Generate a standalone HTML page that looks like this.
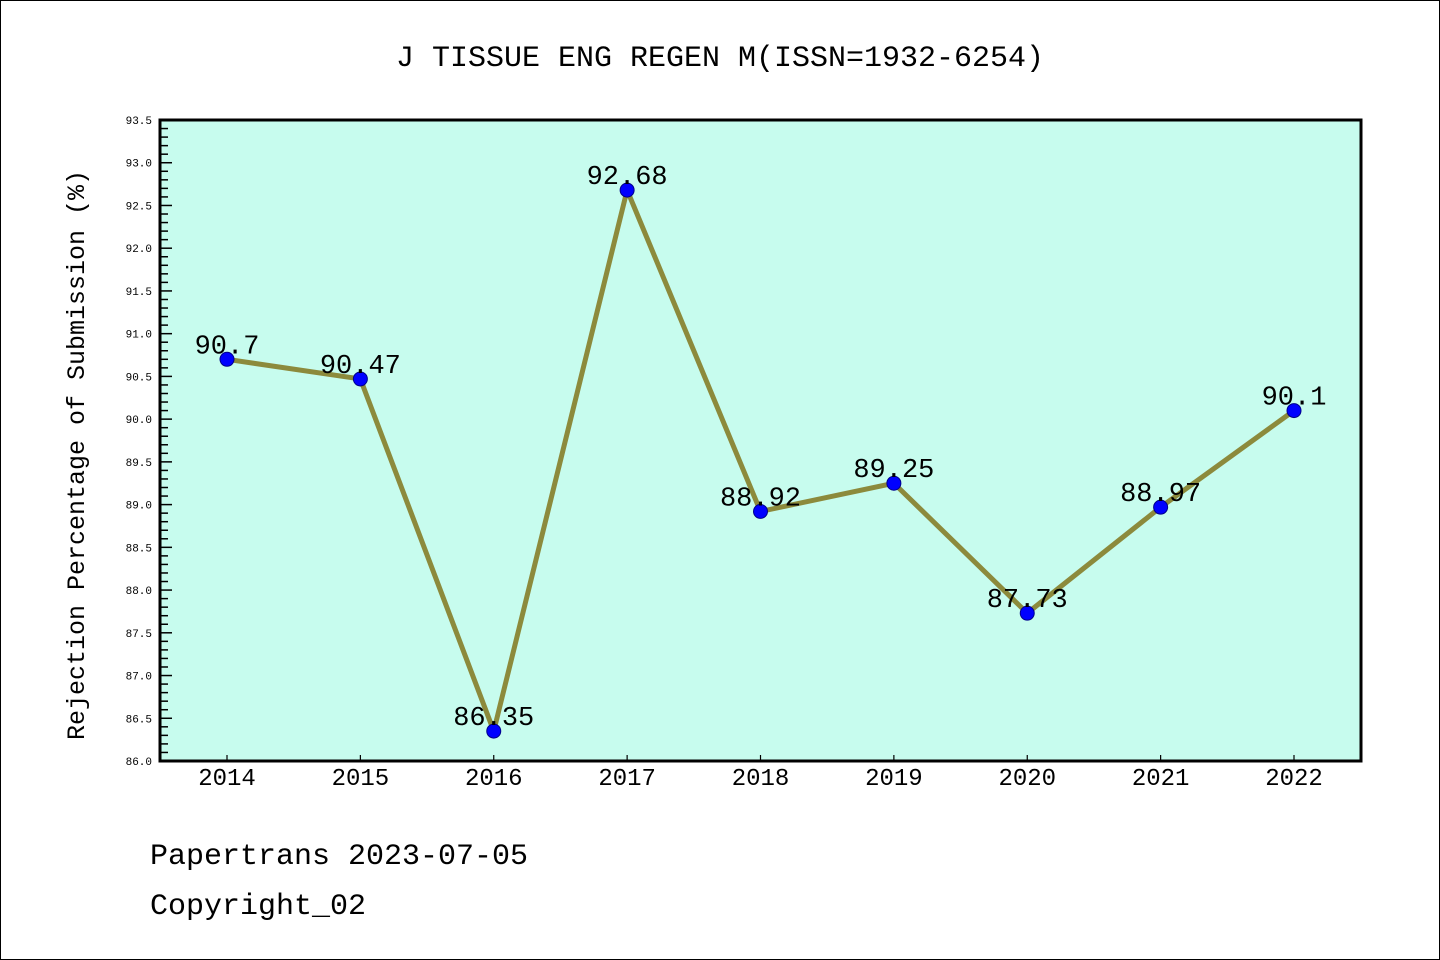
<!DOCTYPE html>
<html><head><meta charset="utf-8"><style>
html,body{margin:0;padding:0;background:#fff}
svg{display:block}
text{font-family:"Liberation Mono","DejaVu Sans Mono",monospace}
</style></head><body>
<svg id="chart" width="1440" height="960" xmlns="http://www.w3.org/2000/svg">
<rect x="0.5" y="0.5" width="1439" height="959" fill="#fff" stroke="#000" stroke-width="1"/>
<text x="720" y="66" text-anchor="middle" font-size="30">J TISSUE ENG REGEN M(ISSN=1932-6254)</text>
<rect x="160" y="120" width="1201" height="641" fill="#c7fcee"/>
<g id="yaxis"></g>
<g id="xaxis"></g>
<g id="series"></g>
<rect x="160" y="120" width="1201" height="641" fill="none" stroke="#000" stroke-width="3"/>
<text transform="translate(84,455) rotate(-90)" text-anchor="middle" font-size="25">Rejection Percentage of Submission (%)</text>
<text x="150" y="864" font-size="30">Papertrans 2023-07-05</text>
<text x="150" y="914" font-size="30">Copyright_02</text>
</svg>
<script>
const categories = ["2014","2015","2016","2017","2018","2019","2020","2021","2022"];
const values = [90.7, 90.47, 86.35, 92.68, 88.92, 89.25, 87.73, 88.97, 90.1];
const valueLabels = ["90.7","90.47","86.35","92.68","88.92","89.25","87.73","88.97","90.1"];
const yTicks = ["86.0","86.5","87.0","87.5","88.0","88.5","89.0","89.5","90.0","90.5","91.0","91.5","92.0","92.5","93.0","93.5"];
const yMin = 86.0, yMax = 93.5;
const NS = "http://www.w3.org/2000/svg";
const L = 160, R = 1361, T = 120, B = 761;
function y(v){ return B - (v - yMin) / (yMax - yMin) * (B - T); }
function x(i){ return 227 + i * (1294 - 227) / (categories.length - 1); }
function mk(tag, attrs, parent){ const e = document.createElementNS(NS, tag); for (const k in attrs) e.setAttribute(k, attrs[k]); parent.appendChild(e); return e; }
const ya = document.getElementById('yaxis');
for (let v = yMin; v <= yMax + 1e-9; v += 0.1) {
  const yy = y(v);
  const major = Math.abs(v * 2 - Math.round(v * 2)) < 1e-6;
  const t = mk('line', {x1: L, x2: L + (major ? 12 : 8), y1: yy, y2: yy, stroke: '#000', 'stroke-width': 1.5}, ya);
  
  
}
yTicks.forEach(s => {
  const t = mk('text', {x: 152, y: y(parseFloat(s)) + 4, 'text-anchor': 'end', 'font-size': 11, 'font-family': 'Liberation Sans, sans-serif'}, ya);
  t.textContent = s;
  
  
});
const xa = document.getElementById('xaxis');
categories.forEach((c, i) => {
  const t = mk('line', {x1: x(i), x2: x(i), y1: B, y2: B - 6, stroke: '#000', 'stroke-width': 1.2}, xa);
  
  
  const l = mk('text', {x: x(i), y: 785, 'text-anchor': 'middle', 'font-size': 24, 'font-family': 'Liberation Sans, sans-serif'}, xa);
  l.textContent = c;
  
  
});
const sg = document.getElementById('series');
const line = mk('polyline', {points: values.map((v, i) => x(i) + ',' + y(v)).join(' '), fill: 'none', stroke: '#8c8a3c', 'stroke-width': 5, 'stroke-linejoin': 'round'}, sg);


values.forEach((v, i) => {
  const c = mk('circle', {cx: x(i), cy: y(v), r: 7, fill: '#0000ff', stroke: '#00008b', 'stroke-width': 1}, sg);
  
  
  const t = mk('text', {x: x(i), y: y(v) - 6, 'text-anchor': 'middle', 'font-size': 27}, sg);
  t.textContent = valueLabels[i];
  
  
});
</script>
</body></html>
